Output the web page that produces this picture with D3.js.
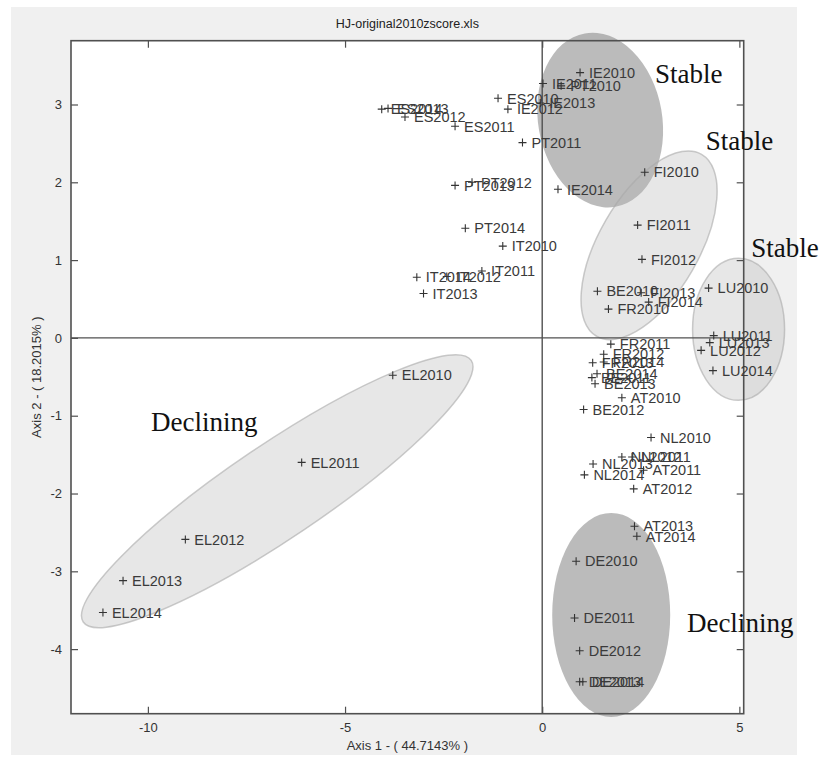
<!DOCTYPE html>
<html>
<head>
<meta charset="utf-8">
<script src="https://cdn.jsdelivr.net/npm/d3@7"></script>
<style>
  html, body { margin: 0; padding: 0; background: #ffffff; }
  svg { display: block; }
</style>
</head>
<body>
<svg id="chart" width="824" height="758"></svg>
<script>
// PCA scores of country-year observations (first two axes)
const labels = [
  "ES2010","ES2011","ES2012","ES2013","ES2014",
  "IE2010","IE2011","IE2012","IE2013","IE2014",
  "PT2010","PT2011","PT2012","PT2013","PT2014",
  "IT2010","IT2011","IT2012","IT2013","IT2014",
  "EL2010","EL2011","EL2012","EL2013","EL2014",
  "FI2010","FI2011","FI2012","FI2013","FI2014",
  "BE2010","BE2011","BE2012","BE2013","BE2014",
  "FR2010","FR2011","FR2012","FR2013","FR2014",
  "LU2010","LU2011","LU2012","LU2013","LU2014",
  "AT2010","AT2011","AT2012","AT2013","AT2014",
  "NL2010","NL2011","NL2012","NL2013","NL2014",
  "DE2010","DE2011","DE2012","DE2013","DE2014"
];
const axis1 = [
  -1.12, -2.21, -3.48, -3.91, -4.07,
   0.96,  0.02, -0.87, -0.05,  0.40,
   0.48, -0.50, -1.78, -2.21, -1.95,
  -1.00, -1.53, -2.42, -3.01, -3.18,
  -3.79, -6.10, -9.05, -10.63, -11.14,
   2.60,  2.42,  2.53,  2.51,  2.70,
   1.40,  1.26,  1.05,  1.34,  1.39,
   1.68,  1.74,  1.56,  1.28,  1.56,
   4.22,  4.35,  4.03,  4.25,  4.33,
   2.02,  2.57,  2.32,  2.34,  2.40,
   2.76,  2.28,  2.02,  1.29,  1.07,
   0.86,  0.82,  0.95,  0.95,  1.03
];
const axis2 = [
   3.08,  2.72,  2.84,  2.95,  2.94,
   3.41,  3.27,  2.94,  3.02,  1.91,
   3.24,  2.51,  2.00,  1.96,  1.41,
   1.18,  0.86,  0.79,  0.57,  0.78,
  -0.48, -1.60, -2.59, -3.12, -3.53,
   2.13,  1.45,  1.01,  0.58,  0.46,
   0.60, -0.51, -0.92, -0.59, -0.46,
   0.37, -0.08, -0.21, -0.32, -0.31,
   0.64,  0.03, -0.16, -0.06, -0.42,
  -0.77, -1.70, -1.94, -2.42, -2.55,
  -1.28, -1.53, -1.53, -1.62, -1.76,
  -2.87, -3.60, -4.02, -4.42, -4.42
];
const xTicks = [-10, -5, 0, 5];
const yTicks = [-4, -3, -2, -1, 0, 1, 2, 3];
const xDomain = [-11.95, 5.11];
const yDomain = [-4.83, 3.82];

// Group annotations: ellipse centre on the score axes, caption text
const groupNames  = ["IE", "FI", "LU", "EL", "DE"];
const groupCx     = [1.47, 2.71, 4.98, -6.72, 1.75];
const groupCy     = [2.80, 1.19, 0.11, -1.97, -3.56];
const groupTone   = ["dark", "light", "light", "light", "dark"];
const captions    = ["Stable", "Stable", "Stable", "Declining", "Declining"];
const captionX    = [2.86, 4.15, 5.30, -9.92, 3.67];
const captionY    = [3.28, 2.42, 1.04, -1.20, -3.78];

const title = "HJ-original2010zscore.xls";
const xLabel = "Axis 1 - ( 44.7143% )";
const yLabel = "Axis 2 - ( 18.2015% )";

// ---- drawing ----
const svg = d3.select("#chart");
const m = { left: 71, right: 743.7, top: 40.7, bottom: 713.7 };

const x = d3.scaleLinear().domain(xDomain).range([m.left, m.right]);
const y = d3.scaleLinear().domain(yDomain).range([m.bottom, m.top]);

// figure background
svg.append("rect").attr("x", 11).attr("y", 7).attr("width", 786).attr("height", 748)
  .attr("fill", "#f0f0f0");
// axes area
svg.append("rect").attr("x", m.left).attr("y", m.top)
  .attr("width", m.right - m.left).attr("height", m.bottom - m.top)
  .attr("fill", "#ffffff");

// ellipse shapes (pixel radii, rotation in degrees)
const ellShape = {
  IE: { rx: 62, ry: 88, rot: -10 },
  FI: { rx: 50, ry: 105, rot: 30 },
  LU: { rx: 46, ry: 71, rot: 0 },
  EL: { rx: 234, ry: 47, rot: -34 },
  DE: { rx: 59, ry: 102, rot: 0 }
};
const groups = groupNames.map((g, i) => ({ name: g, cx: groupCx[i], cy: groupCy[i], tone: groupTone[i] }));
svg.append("g").selectAll("ellipse").data(groups).join("ellipse")
  .attr("transform", d => `translate(${x(d.cx)},${y(d.cy)}) rotate(${ellShape[d.name].rot})`)
  .attr("rx", d => ellShape[d.name].rx)
  .attr("ry", d => ellShape[d.name].ry)
  .attr("fill", d => d.tone === "dark" ? "#7c7c7c" : "#b4b4b4")
  .attr("fill-opacity", d => d.tone === "dark" ? 0.52 : 0.32)
  .attr("stroke", d => d.tone === "dark" ? "none" : "#a8a8a8")
  .attr("stroke-opacity", 0.6)
  .attr("stroke-width", 1.5);

// zero lines
const lineCol = "#505050";
svg.append("line").attr("x1", x(0)).attr("x2", x(0)).attr("y1", m.top).attr("y2", m.bottom)
  .attr("stroke", lineCol).attr("stroke-width", 1.4);
svg.append("line").attr("x1", m.left).attr("x2", m.right).attr("y1", y(0)).attr("y2", y(0))
  .attr("stroke", lineCol).attr("stroke-width", 1.4);

// axes with inward ticks on all four sides
const fmt = d => String(d);
const tickFont = "'Liberation Sans', Arial, sans-serif";
function styleAxis(g) {
  g.select(".domain").remove();
  g.selectAll(".tick line").attr("stroke", lineCol).attr("stroke-width", 1.2);
  g.selectAll(".tick text").attr("fill", "#333").style("font-family", tickFont).style("font-size", "13px");
}
svg.append("g").attr("transform", `translate(0,${m.bottom})`)
  .call(d3.axisBottom(x).tickValues(xTicks).tickFormat(fmt).tickSize(-7).tickPadding(9))
  .call(styleAxis);
svg.append("g").attr("transform", `translate(0,${m.top})`)
  .call(d3.axisTop(x).tickValues(xTicks).tickFormat("").tickSize(-7))
  .call(styleAxis);
svg.append("g").attr("transform", `translate(${m.left},0)`)
  .call(d3.axisLeft(y).tickValues(yTicks).tickFormat(fmt).tickSize(-7).tickPadding(9))
  .call(styleAxis);
svg.append("g").attr("transform", `translate(${m.right},0)`)
  .call(d3.axisRight(y).tickValues(yTicks).tickFormat("").tickSize(-7))
  .call(styleAxis);

// box
svg.append("rect").attr("x", m.left).attr("y", m.top)
  .attr("width", m.right - m.left).attr("height", m.bottom - m.top)
  .attr("fill", "none").attr("stroke", lineCol).attr("stroke-width", 1.6);

// points and labels
const pts = labels.map((l, i) => ({ label: l, a1: axis1[i], a2: axis2[i] }));
const pg = svg.append("g").selectAll("g").data(pts).join("g")
  .attr("transform", d => `translate(${x(d.a1)},${y(d.a2)})`);
pg.append("path").attr("d", "M-4,0H4M0,-4V4").attr("stroke", "#333").attr("stroke-width", 1.1);
pg.append("text").attr("x", 9).attr("dy", "0.36em")
  .attr("fill", "#3a3a3a")
  .style("font-family", tickFont).style("font-size", "14.5px")
  .text(d => d.label);

// captions
svg.append("g").selectAll("text").data(captions).join("text")
  .attr("x", (d, i) => x(captionX[i]))
  .attr("y", (d, i) => y(captionY[i]))
  .attr("fill", "#111")
  .style("font-family", "'Liberation Serif', 'Times New Roman', serif")
  .style("font-size", "27px")
  .text(d => d);

// title and axis titles
svg.append("text").attr("x", (m.left + m.right) / 2).attr("y", 24).attr("dy", "0.35em")
  .attr("text-anchor", "middle").attr("fill", "#222")
  .style("font-family", tickFont).style("font-size", "12.5px").text(title);
svg.append("text").attr("x", (m.left + m.right) / 2).attr("y", 745).attr("dy", "0.35em")
  .attr("text-anchor", "middle").attr("fill", "#333")
  .style("font-family", tickFont).style("font-size", "13px").text(xLabel);
svg.append("text").attr("transform", `translate(36,${(m.top + m.bottom) / 2}) rotate(-90)`)
  .attr("dy", "0.35em").attr("text-anchor", "middle").attr("fill", "#333")
  .style("font-family", tickFont).style("font-size", "13px").text(yLabel);
</script>
</body>
</html>
